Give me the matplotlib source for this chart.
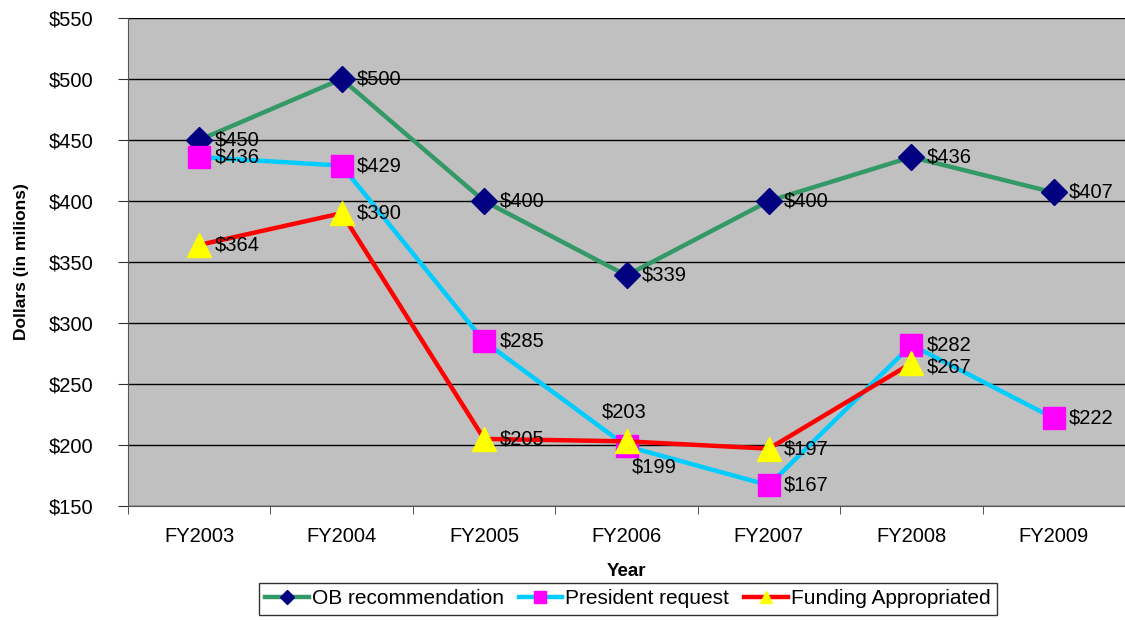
import matplotlib.pyplot as plt

plt.rcParams['font.family'] = ['Liberation Sans', 'DejaVu Sans']

years = ["FY2003", "FY2004", "FY2005", "FY2006", "FY2007", "FY2008", "FY2009"]
ob_rec = [450, 500, 400, 339, 400, 436, 407]
pres_req = [436, 429, 285, 199, 167, 282, 222]
funding = [364, 390, 205, 203, 197, 267]

fig = plt.figure(figsize=(11.25, 6.2), dpi=100)
ax = fig.add_axes([128 / 1125, 1 - 506 / 620, (1125 - 128) / 1125, 488 / 620])
ax.set_facecolor("#C0C0C0")

x = list(range(len(years)))
ax.plot(x, ob_rec, color="#339966", lw=3.2, marker="D", ms=13,
        mfc="#000080", mec="#000080", label="OB recommendation", zorder=3)
ax.plot(x, pres_req, color="#00CCFF", lw=3.2, marker="s", ms=16,
        mfc="#FF00FF", mec="#FF00FF", label="President request", zorder=4)
ax.plot(x[:len(funding)], funding, color="#FF0000", lw=3.2, marker="^", ms=17,
        mfc="#FFFF00", mec="#FFFF00", label="Funding Appropriated", zorder=5)

fs = 14.5
for i, v in enumerate(ob_rec):
    ax.annotate(f"${v}", (i, v), xytext=(11, 0), textcoords="offset points",
                ha="left", va="center", fontsize=fs, zorder=6)
for i, v in enumerate(pres_req):
    off = (11, 0)
    if i == 3:
        off = (4, -15)
    ax.annotate(f"${v}", (i, v), xytext=off, textcoords="offset points",
                ha="left", va="center", fontsize=fs, zorder=6)
for i, v in enumerate(funding):
    off, ha = (11, 0), "left"
    if i == 3:
        off, ha = (-2, 21), "center"
    elif i == 5:
        off = (11, -3)
    ax.annotate(f"${v}", (i, v), xytext=off, textcoords="offset points",
                ha=ha, va="center", fontsize=fs, zorder=6)

ax.set_xlim(-0.5, len(years) - 0.5)
ax.set_ylim(150, 550)
ax.set_yticks(range(150, 551, 50))
ax.set_yticklabels([f"${t}" for t in range(150, 551, 50)], fontsize=fs)
ax.yaxis.grid(True, color="black", lw=1)
ax.set_axisbelow(True)

ax.set_xticks(x)
ax.set_xticklabels(years, fontsize=fs)
ax.set_xticks([i - 0.5 for i in range(len(years) + 1)], minor=True)
ax.tick_params(axis="x", which="major", length=0, pad=15)
ax.tick_params(axis="x", which="minor", length=6, direction="out", color="#333333")
ax.tick_params(axis="y", length=7, direction="out", color="#333333", pad=18)

for side in ["top", "right"]:
    ax.spines[side].set_visible(False)
ax.spines["left"].set_color("#555555")
ax.spines["bottom"].set_color("#555555")

ax.set_xlabel("Year", fontsize=13.5, fontweight="bold", labelpad=12)
ax.set_ylabel("Dollars (in milions)", fontsize=12.5, fontweight="bold", labelpad=14)

leg = fig.legend(loc="lower center", bbox_to_anchor=(0.558, 0.002), ncol=3,
                 fontsize=15, frameon=True, fancybox=False, edgecolor="black",
                 handlelength=2.1, handletextpad=0.15, columnspacing=0.7,
                 borderpad=0.3, borderaxespad=0.2, markerscale=0.55)
leg.get_frame().set_linewidth(1)

fig.savefig("out.png", dpi=100)
